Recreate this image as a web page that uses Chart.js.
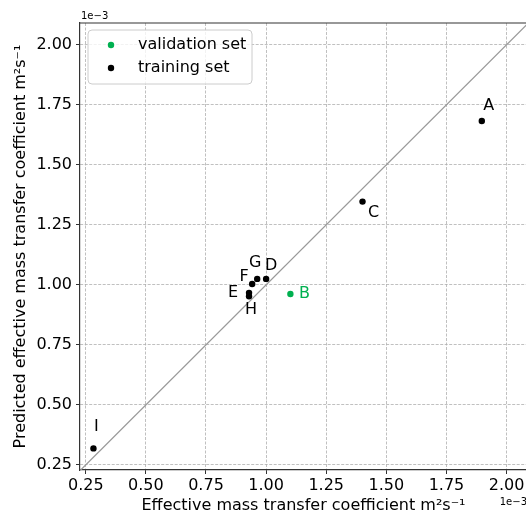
<!DOCTYPE html>
<html><head><meta charset="utf-8">
<script src="https://cdn.jsdelivr.net/npm/chart.js@4/dist/chart.umd.min.js"></script>
<style>html,body{margin:0;padding:0;background:#fff;overflow:hidden}#wrap{width:526px;height:515px;position:relative;overflow:hidden}</style>
</head><body><div id="wrap"><canvas id="c" width="531" height="515"></canvas></div>
<script>
// ---- data (values in units of 1e-3 m^2 s^-1) ----
const TRAIN_NAMES = ['A','C','D','E','F','G','H','I'];
const TRAIN_X = [1.897,1.401,1.000,0.929,0.942,0.963,0.929,0.282];
const TRAIN_Y = [1.683,1.347,1.025,0.967,1.004,1.025,0.953,0.319];
const VALID_NAMES = ['B'];
const VALID_X = [1.101];
const VALID_Y = [0.962];
const TICKS = [0.25,0.50,0.75,1.00,1.25,1.50,1.75,2.00];
const SERIES_LABELS = ['validation set','training set'];
const X_TITLE = 'Effective mass transfer coefficient m\u00B2s\u207B\u00B9';
const Y_TITLE = 'Predicted effective mass transfer coefficient m\u00B2s\u207B\u00B9';
const OFFSET_TEXT = '1e\u22123';
const X_MIN = 0.226, X_MAX = 2.085, Y_MIN = 0.229, Y_MAX = 2.091;

// ---- styles ----
const GREEN = '#00b050';
const FONT = 'DejaVu Sans';
const FS = 16;
const LABEL_OFFSETS = {A:[7,-15],B:[14,0],C:[11,11],D:[5,-13],E:[-16,0],F:[-8,-7],G:[-2,-16],H:[2,14],I:[3,-22]};

const pts = (xs, ys) => xs.map((x,i)=>({x, y: ys[i]}));
const diagMin = Math.min(X_MIN, Y_MIN), diagMax = Math.max(X_MAX, Y_MAX);

const extras = {
  id:'extras',
  afterDatasetsDraw(chart){
    const ctx = chart.ctx, xs = chart.scales.x, ys = chart.scales.y;
    ctx.save();
    ctx.font = FS + 'px "' + FONT + '"';
    ctx.textAlign = 'center'; ctx.textBaseline = 'middle';
    const draw = (names, xv, yv, color) => names.forEach((n,i)=>{
      const o = LABEL_OFFSETS[n] || [0,0];
      ctx.fillStyle = color;
      ctx.fillText(n, xs.getPixelForValue(xv[i]) + o[0], ys.getPixelForValue(yv[i]) + o[1]);
    });
    draw(TRAIN_NAMES, TRAIN_X, TRAIN_Y, '#000');
    draw(VALID_NAMES, VALID_X, VALID_Y, GREEN);
    ctx.restore();
  },
  afterDraw(chart){
    const ctx = chart.ctx, a = chart.chartArea;
    ctx.save();
    // top spine
    ctx.strokeStyle = '#333'; ctx.lineWidth = 1.2;
    ctx.beginPath(); ctx.moveTo(a.left, a.top); ctx.lineTo(a.right, a.top); ctx.stroke();
    // offset texts
    ctx.fillStyle = '#000';
    ctx.font = '10px "' + FONT + '"';
    ctx.textBaseline = 'middle';
    ctx.textAlign = 'left'; ctx.fillText(OFFSET_TEXT, a.left + 1, a.top - 7);
    ctx.textAlign = 'right'; ctx.fillText(OFFSET_TEXT, a.right, a.bottom + 32);
    // legend
    const bx = a.left + 8, by = a.top + 7, bw = 164, bh = 54, r = 4;
    ctx.beginPath();
    ctx.moveTo(bx + r, by); ctx.lineTo(bx + bw - r, by); ctx.quadraticCurveTo(bx + bw, by, bx + bw, by + r);
    ctx.lineTo(bx + bw, by + bh - r); ctx.quadraticCurveTo(bx + bw, by + bh, bx + bw - r, by + bh);
    ctx.lineTo(bx + r, by + bh); ctx.quadraticCurveTo(bx, by + bh, bx, by + bh - r);
    ctx.lineTo(bx, by + r); ctx.quadraticCurveTo(bx, by, bx + r, by);
    ctx.closePath();
    ctx.fillStyle = 'rgba(255,255,255,0.8)'; ctx.fill();
    ctx.strokeStyle = '#cccccc'; ctx.lineWidth = 1; ctx.stroke();
    const sets = chart.data.datasets.filter(d => SERIES_LABELS.includes(d.label));
    ctx.font = FS + 'px "' + FONT + '"';
    ctx.textAlign = 'left'; ctx.textBaseline = 'middle';
    sets.forEach((d, i) => {
      const y = by + 15 + i * 23;
      ctx.fillStyle = d.backgroundColor;
      ctx.beginPath(); ctx.arc(bx + 23, y, 3.2, 0, Math.PI * 2); ctx.fill();
      ctx.fillStyle = '#000';
      ctx.fillText(d.label, bx + 50, y);
    });
    ctx.restore();
  }
};

const zeroPad = s => { s.paddingLeft = 0; s.paddingRight = 0; s.paddingTop = 0; s.paddingBottom = 0; };
const axisCommon = (title, fitFn) => ({
  type:'linear',
  afterBuildTicks: s => { s.ticks = TICKS.map(v => ({value:v})); },
  afterFit: s => { fitFn(s); zeroPad(s); },
  ticks:{ callback: v => Number(v).toFixed(2), font:{family:FONT,size:FS}, color:'#000', maxRotation:0, autoSkip:false },
  grid:{ color:'#b0b0b0', lineWidth:0.8, tickColor:'#333', tickLength:4, tickWidth:1, tickBorderDash:[] },
  border:{ color:'#333', width:1.2, dash:[3,1.5] },
  title:{ display:true, text:title, color:'#000', font:{family:FONT,size:FS} }
});

const xAxis = axisCommon(X_TITLE, s => { s.height = 45; });
xAxis.min = X_MIN; xAxis.max = X_MAX; xAxis.ticks.padding = 2; xAxis.title.padding = {top:0,bottom:0};
const yAxis = axisCommon(Y_TITLE, s => { s.width = 80; });
yAxis.min = Y_MIN; yAxis.max = Y_MAX; yAxis.ticks.padding = 4; yAxis.title.padding = {top:11,bottom:0};

new Chart(document.getElementById('c'), {
  type:'scatter',
  data:{ datasets:[
    { type:'line', label:'identity', data:[{x:diagMin,y:diagMin},{x:diagMax,y:diagMax}],
      borderColor:'#9a9a9a', borderWidth:1.2, pointRadius:0, fill:false, order:3 },
    { label:SERIES_LABELS[0], data:pts(VALID_X, VALID_Y), backgroundColor:GREEN, borderColor:GREEN,
      pointRadius:3.2, borderWidth:0, order:1 },
    { label:SERIES_LABELS[1], data:pts(TRAIN_X, TRAIN_Y), backgroundColor:'#000', borderColor:'#000',
      pointRadius:3.2, borderWidth:0, order:2 }
  ]},
  options:{
    responsive:false, animation:false, devicePixelRatio:1,
    layout:{ padding:{ top:23, right:0, left:0, bottom:0 } },
    plugins:{ legend:{display:false}, tooltip:{enabled:false} },
    scales:{ x:xAxis, y:yAxis }
  },
  plugins:[extras]
});
</script></body></html>
